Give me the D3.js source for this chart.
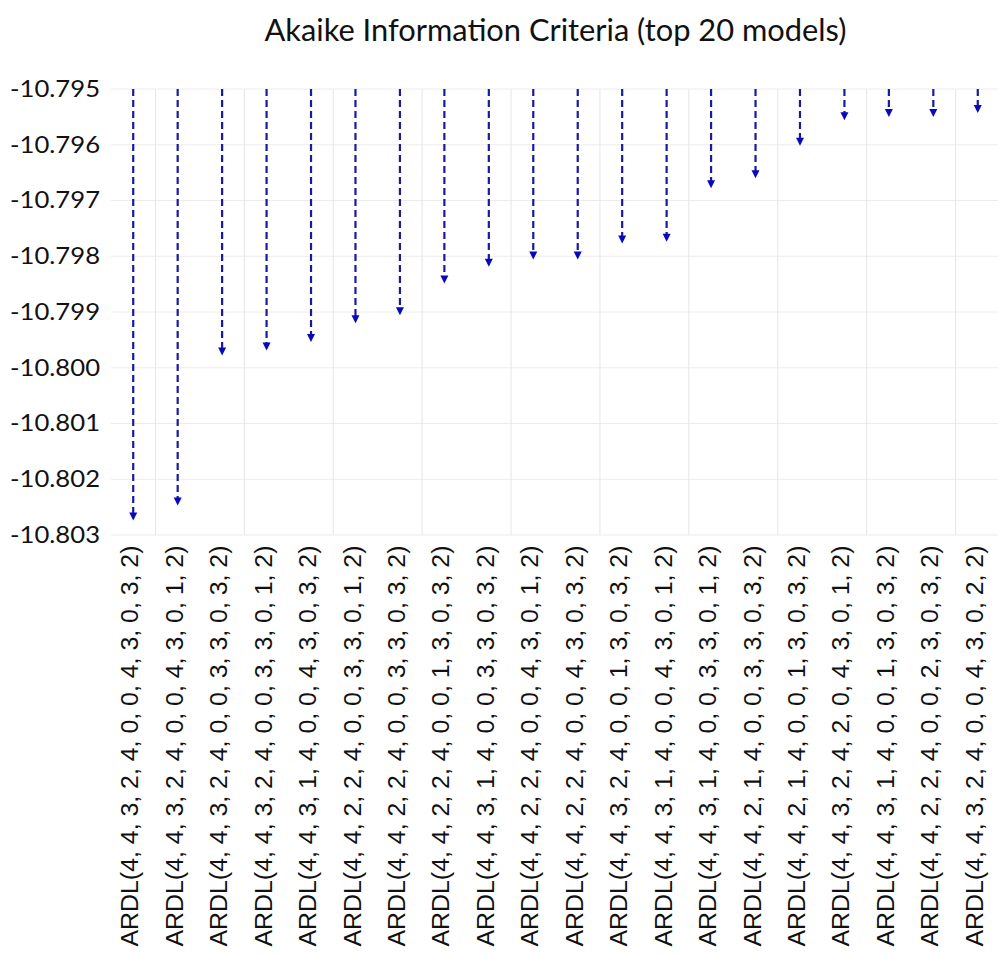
<!DOCTYPE html>
<html>
<head>
<meta charset="utf-8">
<script src="https://cdn.jsdelivr.net/npm/d3@7"></script>
<style>
  body { margin: 0; background: #fff; }
</style>
</head>
<body>
<div id="chart"></div>
<script>
// Model labels (x categories), in plotted order
const models = [
  "ARDL(4, 4, 3, 2, 4, 0, 0, 4, 3, 0, 3, 2)",
  "ARDL(4, 4, 3, 2, 4, 0, 0, 4, 3, 0, 1, 2)",
  "ARDL(4, 4, 3, 2, 4, 0, 0, 3, 3, 0, 3, 2)",
  "ARDL(4, 4, 3, 2, 4, 0, 0, 3, 3, 0, 1, 2)",
  "ARDL(4, 4, 3, 1, 4, 0, 0, 4, 3, 0, 3, 2)",
  "ARDL(4, 4, 2, 2, 4, 0, 0, 3, 3, 0, 1, 2)",
  "ARDL(4, 4, 2, 2, 4, 0, 0, 3, 3, 0, 3, 2)",
  "ARDL(4, 4, 2, 2, 4, 0, 0, 1, 3, 0, 3, 2)",
  "ARDL(4, 4, 3, 1, 4, 0, 0, 3, 3, 0, 3, 2)",
  "ARDL(4, 4, 2, 2, 4, 0, 0, 4, 3, 0, 1, 2)",
  "ARDL(4, 4, 2, 2, 4, 0, 0, 4, 3, 0, 3, 2)",
  "ARDL(4, 4, 3, 2, 4, 0, 0, 1, 3, 0, 3, 2)",
  "ARDL(4, 4, 3, 1, 4, 0, 0, 4, 3, 0, 1, 2)",
  "ARDL(4, 4, 3, 1, 4, 0, 0, 3, 3, 0, 1, 2)",
  "ARDL(4, 4, 2, 1, 4, 0, 0, 3, 3, 0, 3, 2)",
  "ARDL(4, 4, 2, 1, 4, 0, 0, 1, 3, 0, 3, 2)",
  "ARDL(4, 4, 3, 2, 4, 2, 0, 4, 3, 0, 1, 2)",
  "ARDL(4, 4, 3, 1, 4, 0, 0, 1, 3, 0, 3, 2)",
  "ARDL(4, 4, 2, 2, 4, 0, 0, 2, 3, 0, 3, 2)",
  "ARDL(4, 4, 3, 2, 4, 0, 0, 4, 3, 0, 2, 2)"
];

// AIC value of each model (arrow tip)
const aic = [
  -10.80274, -10.80247, -10.79978, -10.79969, -10.79954,
  -10.79920, -10.79906, -10.79849, -10.79819, -10.79806,
  -10.79806, -10.79777, -10.79774, -10.79678, -10.79660,
  -10.79602, -10.79556, -10.79550, -10.79550, -10.79543
];

const yTicks = [-10.795, -10.796, -10.797, -10.798, -10.799, -10.800, -10.801, -10.802, -10.803];
const yTop = -10.795;

const chartTitle = "Akaike Information Criteria (top 20 models)";

// Set up chart dimensions
const margin = {top: 89, right: -2, bottom: 419, left: 111};
const W = 998, H = 954;
const width = W - margin.left - margin.right;
const height = H - margin.top - margin.bottom;

const svg = d3.select("#chart").append("svg")
    .attr("width", W)
    .attr("height", H);

const g = svg.append("g")
    .attr("transform", "translate(" + margin.left + "," + margin.top + ")");

// Scales
const x = d3.scaleBand()
    .domain(models)
    .range([0, width])
    .padding(0);
const cx = d => x(d) + x.bandwidth() / 2;

const y = d3.scaleLinear()
    .domain([-10.803, -10.795])
    .range([height, 0]);

// Horizontal grid
g.append("g")
    .selectAll("line")
    .data(yTicks)
    .enter().append("line")
    .attr("x1", 0)
    .attr("x2", width)
    .attr("y1", d => y(d))
    .attr("y2", d => y(d))
    .attr("stroke", "#ececec")
    .attr("stroke-width", 1);

// Vertical grid (one line between every pair of models)
const pairs = d3.range(0, models.length, 2).map(i => [models[i], models[i + 1]]);
g.append("g")
    .selectAll("line")
    .data(pairs)
    .enter().append("line")
    .attr("x1", d => (cx(d[0]) + cx(d[1])) / 2)
    .attr("x2", d => (cx(d[0]) + cx(d[1])) / 2)
    .attr("y1", 0)
    .attr("y2", height)
    .attr("stroke", "#e6e6e6")
    .attr("stroke-width", 1);

// Y axis
const yAxis = d3.axisLeft(y)
    .tickValues(yTicks)
    .tickFormat(d => d.toFixed(3))
    .tickSize(0)
    .tickPadding(11);

g.append("g")
    .call(yAxis)
    .call(a => a.select(".domain").remove())
    .selectAll("text")
    .attr("fill", "#111")
    .style("font-family", "Lato, 'Open Sans', sans-serif")
    .style("font-size", "23px")
    .attr("textLength", 90)
    .attr("lengthAdjust", "spacingAndGlyphs");

// X axis with rotated model labels
const xAxis = d3.axisBottom(x).tickSize(0);

g.append("g")
    .attr("transform", "translate(0," + height + ")")
    .call(xAxis)
    .call(a => a.select(".domain").remove())
    .selectAll("text")
    .attr("fill", "#111")
    .attr("y", 0)
    .attr("x", -10.5)
    .attr("dy", "0.22em")
    .attr("transform", "rotate(-90)")
    .style("text-anchor", "end")
    .style("font-family", "'Liberation Sans', Arial, sans-serif")
    .style("font-size", "23px")
    .attr("textLength", 401)
    .attr("lengthAdjust", "spacingAndGlyphs");

// Dashed arrows from the top of the plot down to each AIC value
const arrows = g.append("g");

arrows.selectAll(".stem")
    .data(models)
    .enter().append("line")
    .attr("class", "stem")
    .attr("x1", d => cx(d))
    .attr("x2", d => cx(d))
    .attr("y1", y(yTop))
    .attr("y2", (d, i) => y(aic[i]) - 6)
    .attr("stroke", "#1a1a9c")
    .attr("stroke-width", 2.2)
    .attr("stroke-dasharray", "7,4");

arrows.selectAll(".head")
    .data(models)
    .enter().append("path")
    .attr("class", "head")
    .attr("d", (d, i) => {
        const px = cx(d), py = y(aic[i]);
        return "M" + (px - 4) + "," + (py - 8) + "L" + (px + 4) + "," + (py - 8) + "L" + px + "," + py + "Z";
    })
    .attr("fill", "#0808bc");

// Title
svg.append("text")
    .attr("x", margin.left + width / 2)
    .attr("y", 41)
    .attr("text-anchor", "middle")
    .attr("fill", "#111")
    .style("font-family", "Lato, 'Open Sans', sans-serif")
    .style("font-size", "30px")
    .attr("textLength", 582)
    .attr("lengthAdjust", "spacingAndGlyphs")
    .text(chartTitle);
</script>
</body>
</html>
